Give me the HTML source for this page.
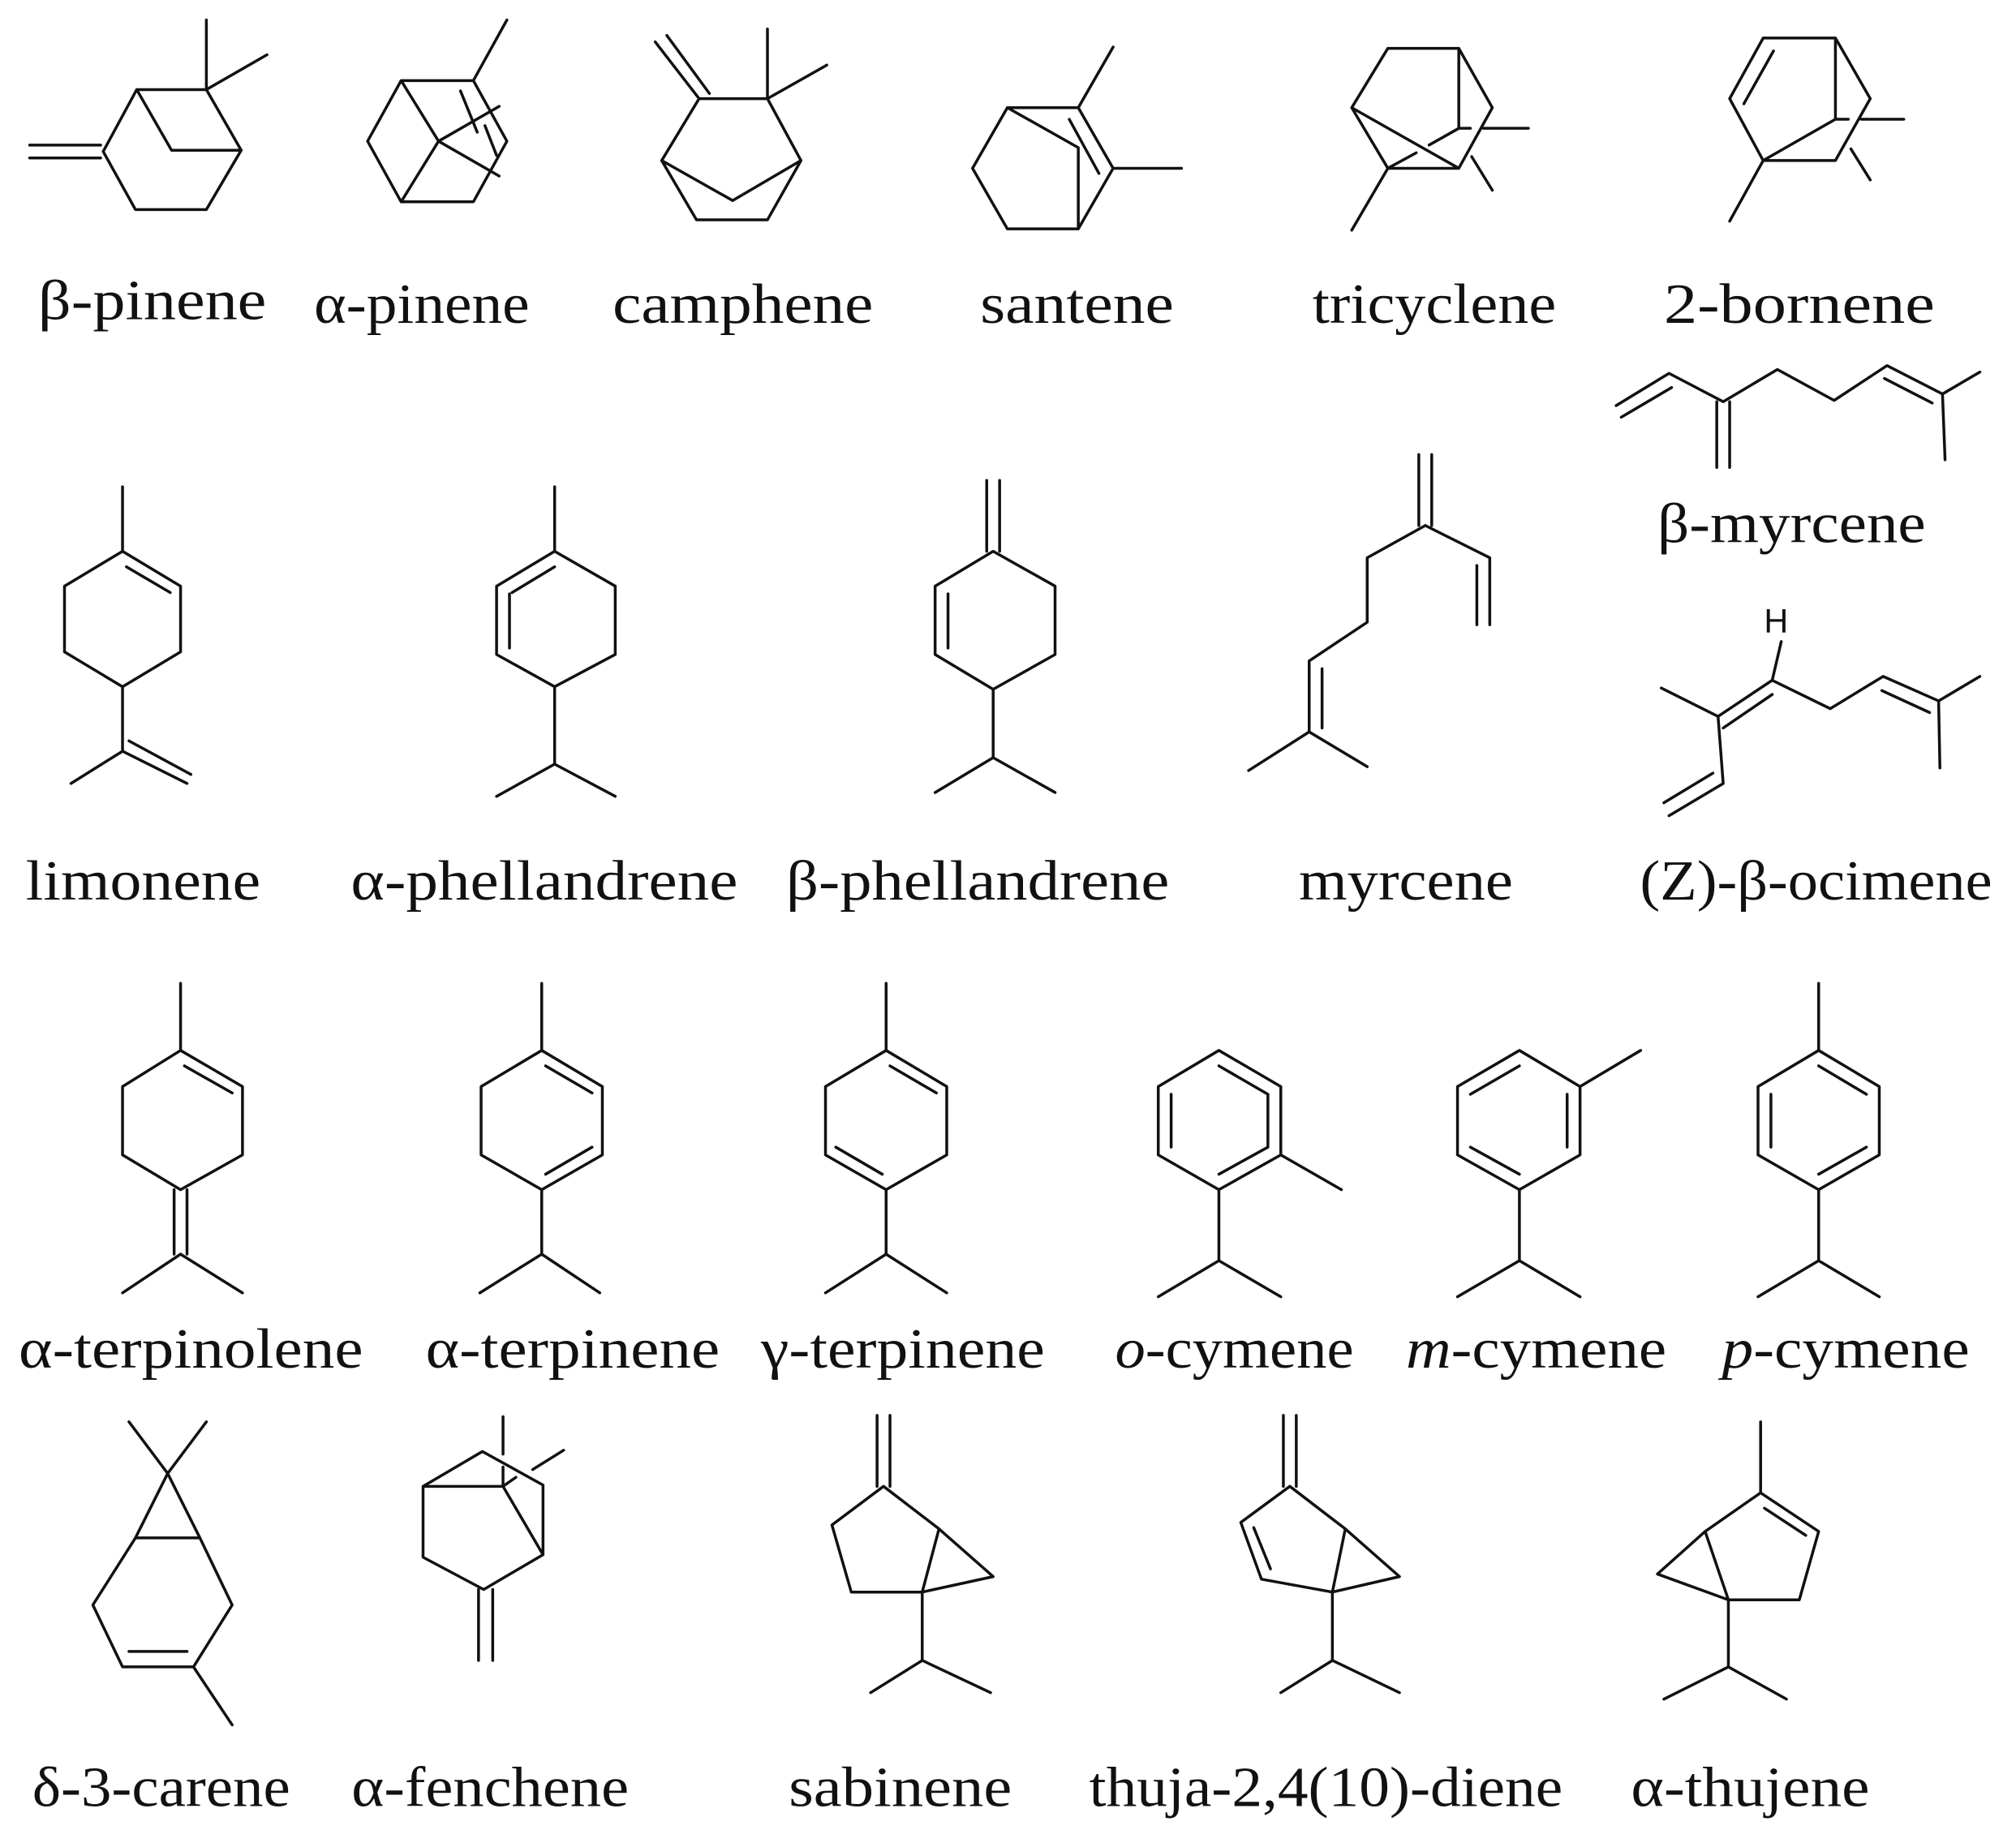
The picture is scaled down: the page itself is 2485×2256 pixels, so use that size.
<!DOCTYPE html>
<html><head><meta charset="utf-8"><style>
html,body{margin:0;padding:0;background:#fff;}
svg{display:block}
text{font-family:"Liberation Serif",serif;font-size:44px;fill:#111;text-anchor:middle}
</style></head><body>
<svg width="2485" height="2256" viewBox="0 0 1563 1414" xmlns="http://www.w3.org/2000/svg">
<g fill="none" stroke="#111" stroke-width="2.2" stroke-linecap="round" stroke-linejoin="round">
<!-- beta-pinene -->
<path d="M23 110 L78 110 M23 120 L78 120 M80 115 L106 67 L160 67 L187 114 L160 160 L105 160 Z M106 67 L133 114 L187 114 M160 67 L160 13 M160 67 L207 40"/>
<!-- alpha-pinene -->
<path d="M285 107 L311 60 L367 60 L393 107 L367 154 L311 154 Z M367 60 L393 13 M311 60 L340 107 L311 154 M340 107 L387 80 M340 107 L387 134 M357 68 L370 100 M376 95 L385 118"/>
<!-- camphene -->
<path d="M513 122 L542 74 L595 74 L621 122 L595 168 L540 168 Z M542 74 L508 30 M550 70 L517 25 M595 74 L595 20 M595 74 L641 48 M513 122 L568 153 L621 122"/>
<!-- santene -->
<path d="M754 128 L781 81 L836 81 L863 128 L836 175 L781 175 Z M836 81 L863 34 M863 128 L916 128 M781 81 L836 112 L836 175 M829 90 L852 132"/>
<!-- tricyclene -->
<path d="M1048 81 L1076 35 L1131 35 L1157 81 L1131 128 L1076 128 Z M1131 35 L1131 97 M1048 81 L1131 128 M1076 128 L1098 116 M1108 110 L1131 97 M1131 97 L1140 97 M1150 97 L1185 97 M1141 119 L1157 145 M1076 128 L1048 176"/>
<!-- 2-bornene -->
<path d="M1341 74 L1367 27 L1423 27 L1450 74 L1423 122 L1367 122 Z M1375 37 L1352 78 M1423 27 L1423 90 M1367 122 L1423 90 M1423 90 L1433 90 M1443 90 L1476 90 M1435 113 L1450 137 M1367 122 L1341 169"/>
<!-- beta-myrcene -->
<path d="M1253 312 L1294 287 L1336 309 L1378 284 L1422 308 L1463 281 L1506 303 L1535 286 M1257 321 L1296 298 M1331 309 L1331 360 M1341 309 L1341 360 M1506 303 L1508 354 M1461 291 L1498 310"/>
<!-- Z-beta-ocimene -->
<path d="M1288 531 L1332 553 L1374 525 L1419 547 L1460 522 L1503 541 L1504 593 M1503 541 L1535 522 M1374 525 L1381 495 M1336 562 L1374 536 M1459 533 L1496 550 M1332 553 L1336 605 L1294 630 M1328 597 L1290 620"/>
<!-- limonene -->
<path d="M95 375 L95 425 M95 425 L140 452 L140 503 L95 530 L50 503 L50 452 Z M98 437 L132 457 M95 530 L95 580 L55 605 M95 580 L145 605 M100 572 L148 598"/>
<!-- alpha-phellandrene -->
<path d="M430 375 L430 425 M430 425 L477 452 L477 505 L430 530 L385 505 L385 452 Z M395 458 L395 500 M430 437 L397 457 M430 530 L430 590 L385 615 M430 590 L477 615"/>
<!-- beta-phellandrene -->
<path d="M765 370 L765 425 M775 370 L775 425 M770 425 L818 452 L818 505 L770 532 L725 505 L725 452 Z M735 458 L735 500 M770 532 L770 585 L725 612 M770 585 L818 612"/>
<!-- myrcene -->
<path d="M1100 350 L1100 405 M1110 350 L1110 405 M1105 405 L1155 430 L1155 482 M1145 436 L1145 482 M1105 405 L1060 430 L1060 480 L1015 510 L1015 565 L968 595 M1025 516 L1025 562 M1015 565 L1060 592"/>
<!-- alpha-terpinolene -->
<path d="M140 760 L140 812 M140 812 L188 840 L188 893 L140 920 L95 893 L95 840 Z M143 824 L180 845 M135 920 L135 970 M145 920 L145 970 M140 970 L95 1000 M140 970 L188 1000"/>
<!-- alpha-terpinene -->
<path d="M420 760 L420 812 M420 812 L467 840 L467 893 L420 920 L373 893 L373 840 Z M423 824 L459 845 M423 908 L459 887 M420 920 L420 970 L372 1000 M420 970 L465 1000"/>
<!-- gamma-terpinene -->
<path d="M687 760 L687 812 M687 812 L734 840 L734 893 L687 920 L640 893 L640 840 Z M690 824 L726 845 M684 908 L648 887 M687 920 L687 970 L640 1000 M687 970 L734 1000"/>
<!-- o-cymene -->
<path d="M945 812 L993 840 L993 893 L945 920 L898 893 L898 840 Z M945 824 L983 846 M983 846 L983 887 M908 846 L908 887 M945 908 L983 887 M993 893 L1040 920 M945 920 L945 975 L898 1003 M945 975 L993 1003"/>
<!-- m-cymene -->
<path d="M1178 812 L1225 840 L1225 893 L1178 920 L1130 893 L1130 840 Z M1178 824 L1140 846 M1215 846 L1215 887 M1140 887 L1178 908 M1225 840 L1272 812 M1178 920 L1178 975 L1130 1003 M1178 975 L1225 1003"/>
<!-- p-cymene -->
<path d="M1410 760 L1410 812 M1410 812 L1457 840 L1457 893 L1410 920 L1363 893 L1363 840 Z M1410 824 L1447 846 M1373 846 L1373 887 M1410 908 L1447 887 M1410 920 L1410 975 L1363 1003 M1410 975 L1457 1003"/>
<!-- delta-3-carene -->
<path d="M130 1140 L100 1100 M130 1140 L160 1100 M130 1140 L105 1190 L155 1190 Z M105 1190 L72 1242 L95 1290 L150 1290 L180 1242 L155 1190 M100 1278 L145 1278 M150 1290 L180 1335"/>
<!-- alpha-fenchene -->
<path d="M328 1150 L374 1123 L421 1149 L421 1203 L375 1230 L328 1205 Z M328 1150 L390 1150 L421 1203 M390 1096 L390 1125 M390 1135 L390 1150 M413 1137 L437 1122 M390 1150 L400 1143 M371 1230 L371 1285 M382 1230 L382 1285"/>
<!-- sabinene -->
<path d="M680 1095 L680 1150 M690 1095 L690 1150 M685 1150 L728 1183 L715 1232 L660 1232 L645 1180 Z M728 1183 L770 1220 L715 1232 M715 1232 L715 1285 L675 1310 M715 1285 L768 1310"/>
<!-- thuja-2,4(10)-diene -->
<path d="M995 1095 L995 1150 M1005 1095 L1005 1150 M1000 1150 L1043 1183 L1033 1232 L978 1222 L962 1178 Z M972 1182 L985 1214 M1043 1183 L1085 1220 L1033 1232 M1033 1232 L1033 1285 L993 1310 M1033 1285 L1085 1310"/>
<!-- alpha-thujene -->
<path d="M1365 1100 L1365 1155 M1365 1155 L1410 1185 L1395 1238 L1340 1238 L1322 1185 Z M1368 1167 L1400 1188 M1322 1185 L1285 1218 L1340 1238 M1340 1238 L1340 1290 L1290 1315 M1340 1290 L1385 1315"/>
</g>
<text x="1377" y="488" style="font-family:'Liberation Sans',sans-serif;font-size:26px">H</text>
<text x="118" y="245" textLength="177" lengthAdjust="spacingAndGlyphs">β-pinene</text>
<text x="327" y="248" textLength="167" lengthAdjust="spacingAndGlyphs">α-pinene</text>
<text x="576" y="248" textLength="202" lengthAdjust="spacingAndGlyphs">camphene</text>
<text x="835" y="248" textLength="150" lengthAdjust="spacingAndGlyphs">santene</text>
<text x="1112" y="248" textLength="189" lengthAdjust="spacingAndGlyphs">tricyclene</text>
<text x="1395" y="248" textLength="210" lengthAdjust="spacingAndGlyphs">2-bornene</text>
<text x="1389" y="418" textLength="208" lengthAdjust="spacingAndGlyphs">β-myrcene</text>
<text x="111" y="695" textLength="182" lengthAdjust="spacingAndGlyphs">limonene</text>
<text x="422" y="695" textLength="300" lengthAdjust="spacingAndGlyphs">α-phellandrene</text>
<text x="758" y="695" textLength="297" lengthAdjust="spacingAndGlyphs">β-phellandrene</text>
<text x="1090" y="695" textLength="166" lengthAdjust="spacingAndGlyphs">myrcene</text>
<text x="1408" y="695" textLength="273" lengthAdjust="spacingAndGlyphs">(Z)-β-ocimene</text>
<text x="148" y="1058" textLength="267" lengthAdjust="spacingAndGlyphs">α-terpinolene</text>
<text x="444" y="1058" textLength="228" lengthAdjust="spacingAndGlyphs">α-terpinene</text>
<text x="700" y="1058" textLength="220" lengthAdjust="spacingAndGlyphs">γ-terpinene</text>
<text x="957" y="1058" textLength="185" lengthAdjust="spacingAndGlyphs"><tspan font-style="italic">o</tspan>-cymene</text>
<text x="1191" y="1058" textLength="202" lengthAdjust="spacingAndGlyphs"><tspan font-style="italic">m</tspan>-cymene</text>
<text x="1431" y="1058" textLength="192" lengthAdjust="spacingAndGlyphs"><tspan font-style="italic">p</tspan>-cymene</text>
<text x="125" y="1398" textLength="200" lengthAdjust="spacingAndGlyphs">δ-3-carene</text>
<text x="380" y="1398" textLength="215" lengthAdjust="spacingAndGlyphs">α-fenchene</text>
<text x="698" y="1398" textLength="173" lengthAdjust="spacingAndGlyphs">sabinene</text>
<text x="1028" y="1398" textLength="367" lengthAdjust="spacingAndGlyphs">thuja-2,4(10)-diene</text>
<text x="1357" y="1398" textLength="185" lengthAdjust="spacingAndGlyphs">α-thujene</text>
</svg>
</body></html>
